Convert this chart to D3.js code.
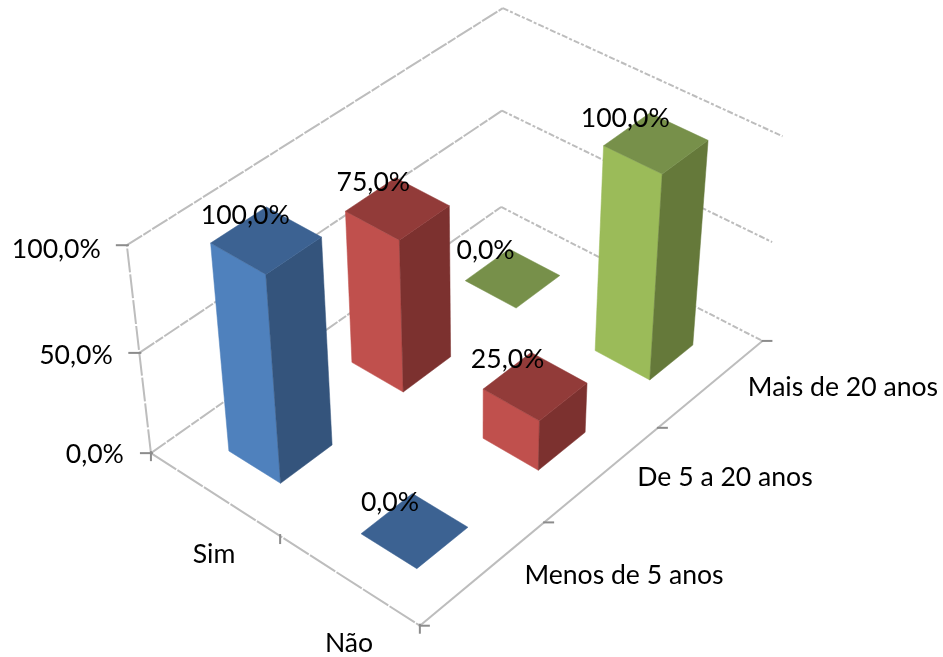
<!DOCTYPE html>
<html><head><meta charset="utf-8"><script src="https://d3js.org/d3.v7.min.js"></script>
<style>html,body{margin:0;background:#fff}svg{display:block;filter:blur(.45px)}text{font-family:Lato,"Open Sans",sans-serif;fill:#000}</style></head>
<body><svg id="c" width="943" height="657"></svg>
<script>
const categories=["Menos de 5 anos","De 5 a 20 anos","Mais de 20 anos"];
const series=["Sim","Não"];
const simValues=[100,75,0];
const naoValues=[0,25,100];
const valueTicks=[0,50,100];
const faceColors=[["#4F81BD","#34547C","#3C6292"],["#C0504D","#7C312F","#923B39"],["#9BBB59","#65793A","#77904A"]];

const anchors=[
 [0,0,0,150,453],[1,0,0,420,626],[1,1,0,762,340],[0,1,0,502,208],
 [0,0,.5,140,352],[0,1,.5,502,110],[1,1,.5,772,243],
 [0,0,1,127,246],[0,1,1,502,8],[1,1,1,783,136]];
function solve(A,b){const n=b.length,M=A.map((r,i)=>[...r,b[i]]);
 for(let i=0;i<n;i++){let p=i;for(let k=i+1;k<n;k++)if(Math.abs(M[k][i])>Math.abs(M[p][i]))p=k;[M[i],M[p]]=[M[p],M[i]];
  for(let k=0;k<n;k++)if(k!==i){const f=M[k][i]/M[i][i];for(let j=i;j<=n;j++)M[k][j]-=f*M[i][j];}}
 return M.map((r,i)=>r[n]/r[i]);}
const rows=[],rhs=[];
anchors.forEach(([u,v,w,x,y])=>{
 rows.push([u,v,w,1,0,0,0,0,-x*u,-x*v,-x*w]);rhs.push(x);
 rows.push([0,0,0,0,u,v,w,1,-y*u,-y*v,-y*w]);rhs.push(y);});
const ATA=d3.range(11).map(i=>d3.range(11).map(j=>d3.sum(rows,r=>r[i]*r[j])));
const ATb=d3.range(11).map(i=>d3.sum(rows,(r,k)=>r[i]*rhs[k]));
const P=solve(ATA,ATb);
function proj(u,v,w){const d=P[8]*u+P[9]*v+P[10]*w+1;
 return [(P[0]*u+P[1]*v+P[2]*w+P[3])/d,(P[4]*u+P[5]*v+P[6]*w+P[7])/d];}

const uScale=d3.scaleBand().domain(series).range([0,1]).paddingInner(.6).paddingOuter(.3).align(.525);
const vScale=d3.scaleBand().domain(categories).range([0,1]).paddingInner(.59).paddingOuter(.295);
const zScale=d3.scaleLinear().domain([0,100]).range([0,1]);

const svg=d3.select("#c");
const line=d3.line();
const gridG=svg.append("g").attr("fill","none").attr("stroke","#bdbdbd").attr("stroke-width",2);
function seg(a,b,dash){const p=gridG.append("path").attr("d",line([proj(...a),proj(...b)]));
 if(dash)p.attr("stroke-dasharray",dash);return p;}
valueTicks.forEach(t=>{const z=zScale(t);
 seg([0,0,z],[0,1,z],"18 1.5 9 1.5");
 seg([0,1,z],[1,1,z],"6 2 3 2");});
seg([0,0,0],[0,0,1],"24 2");
seg([0,0,0],[1,0,0],"30 1.5");
seg([1,0,0],[1,1,0]);
const tickC="#8c8c8c";
valueTicks.forEach(t=>{const p=proj(0,0,zScale(t));
 svg.append("path").attr("d",line([[p[0]-11,p[1]],[p[0]+2,p[1]]])).attr("stroke",tickC).attr("stroke-width",2);
 svg.append("text").attr("x",p[0]-27+t*.01).attr("y",p[1]+10+t*.03).attr("text-anchor","end").attr("font-size",26.6).text(t+",0%");});
[0,1/3,2/3,1].forEach(f=>{const p=proj(1,f,0);
 svg.append("path").attr("d",line([[p[0]-1,p[1]],[p[0]+10,p[1]]])).attr("stroke",tickC).attr("stroke-width",2);});
[0,.5,1].forEach(f=>{const p=proj(f,0,0);
 svg.append("path").attr("d",line([[p[0],p[1]-2],[p[0],p[1]+8]])).attr("stroke",tickC).attr("stroke-width",2);});

function bar(serie,cat,val,cols){
 const u0=uScale(serie),u1=u0+uScale.bandwidth(),v0=vScale(cat),v1=v0+vScale.bandwidth(),z=zScale(val);
 const g=svg.append("g");
 const poly=(pts,c)=>g.append("path").attr("d",line(pts.map(p=>proj(...p)))+"Z").attr("fill",c).attr("stroke",c).attr("stroke-width",.5);
 if(val>0){
  poly([[u0,v0,0],[u1,v0,0],[u1,v0,z],[u0,v0,z]],cols[0]);
  poly([[u1,v0,0],[u1,v1,0],[u1,v1,z],[u1,v0,z]],cols[1]);
 }
 poly([[u0,v0,z],[u1,v0,z],[u1,v1,z],[u0,v1,z]],cols[2]);
 return [proj((u0+u1)/2,(v0+v1)/2,z),val,z];
}
const order=[];
categories.forEach((c,i)=>{order.push([series[0],c,simValues[i],faceColors[i]]);order.push([series[1],c,naoValues[i],faceColors[i]]);});
order.sort((a,b)=>(vScale(b[1])-uScale(b[0]))-(vScale(a[1])-uScale(a[0])));
const labels=order.map(o=>bar(...o));
labels.forEach(([p,val,z])=>{svg.append("text").attr("x",p[0]-26+(472-p[0])*.025).attr("y",p[1]-19+2.5*z).attr("text-anchor","middle").attr("font-size",26.6).text(val+",0%");});

const fs=26.6;
svg.append("text").attr("x",214).attr("y",563).attr("text-anchor","middle").attr("font-size",fs).text(series[0]);
svg.append("text").attr("x",349).attr("y",652).attr("text-anchor","middle").attr("font-size",fs).text(series[1]);
svg.append("text").attr("x",624).attr("y",584).attr("text-anchor","middle").attr("font-size",fs).text(categories[0]);
svg.append("text").attr("x",725).attr("y",486).attr("text-anchor","middle").attr("font-size",fs).text(categories[1]);
svg.append("text").attr("x",843).attr("y",396).attr("text-anchor","middle").attr("font-size",fs).text(categories[2]);
</script></body></html>
